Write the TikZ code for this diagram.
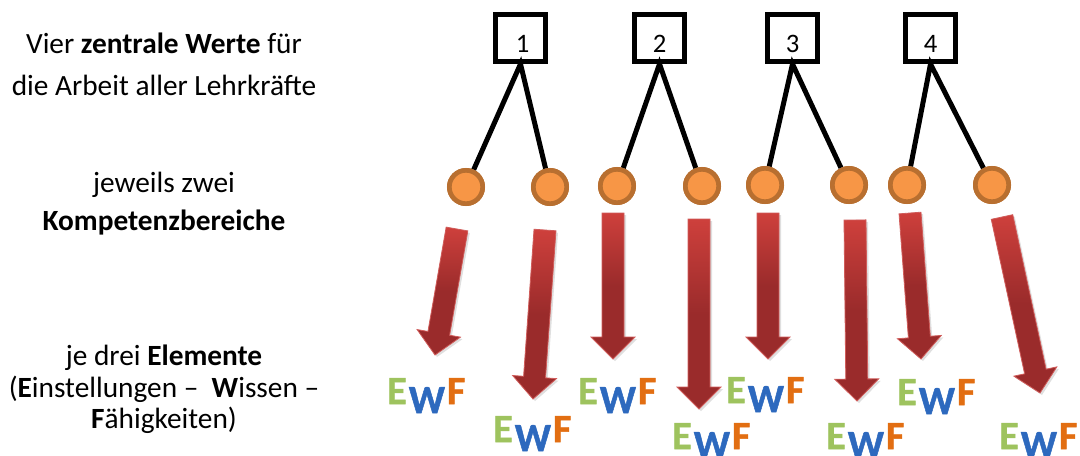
\documentclass[tikz,border=0pt]{standalone}
\usepackage{fontspec}
\setmainfont{Carlito}
\newfontfamily\ewffont[FakeBold=1.2]{Carlito Bold}
\usetikzlibrary{shadows,calc}
\definecolor{compfill}{RGB}{247,150,70}
\definecolor{compdraw}{RGB}{184,111,48}
\definecolor{arrtop}{RGB}{206,64,60}
\definecolor{arrbot}{RGB}{154,43,43}
\definecolor{arredge}{RGB}{208,92,90}
\definecolor{ewfE}{RGB}{158,195,94}
\definecolor{ewfW}{RGB}{45,105,190}
\definecolor{ewfF}{RGB}{226,110,18}
\tikzset{
  wertbox/.style={draw=black,line width=3.75pt,fill=white,minimum width=37.5pt,minimum height=35.25pt,inner sep=0pt,font=\fontsize{20}{22}\selectfont},
  compcircle/.style={circle,fill=compfill,draw=compdraw,line width=3.5pt,minimum size=25pt,inner sep=0pt},
  link/.style={draw=black,line width=3.75pt},
  redarrow/.style={shading=axis,top color=arrtop,bottom color=arrbot,middle color=arrbot,
    draw=arredge,line width=0.6pt,line join=miter,
    drop shadow={opacity=0.25,shadow xshift=1.5pt,shadow yshift=-1.5pt}},
  lefttext/.style={anchor=base,font=\fontsize{22}{24}\selectfont},
  ewfgroup/.style={anchor=base west,inner sep=0pt,font=\fontsize{30}{31}\selectfont\ewffont}
}
\newcommand\ewfletters{{\color{ewfE}E}\kern1.5pt\raisebox{-6.75pt}{\color{ewfW}W}\kern1.5pt{\color{ewfF}F}}
% block arrow from tail coordinate #1 to tip coordinate #2
\newcommand\blockarr[2]{%
  \path[redarrow] ($(#1)!8.25pt!90:(#2)$)
    -- ($($(#2)!16.5pt!(#1)$)!8.25pt!90:(#2)$)
    -- ($($(#2)!16.5pt!(#1)$)!16.5pt!90:(#2)$)
    -- (#2)
    -- ($($(#2)!16.5pt!(#1)$)!16.5pt!-90:(#2)$)
    -- ($($(#2)!16.5pt!(#1)$)!8.25pt!-90:(#2)$)
    -- ($(#1)!8.25pt!-90:(#2)$) -- cycle;}
\begin{document}
\begin{tikzpicture}[x=0.75pt,y=-0.75pt]
\useasboundingbox (0,0) rectangle (1080,455);

% left texts
\node[lefttext] (t1) at (164,53) {Vier \textbf{zentrale Werte} für};
\node[lefttext] (t2) at (164,95) {die Arbeit aller Lehrkräfte};
\node[lefttext] (t3) at (164,192) {jeweils zwei};
\node[lefttext] (t4) at (164,230) {\textbf{Kompetenzbereiche}};
\node[lefttext] (t5) at (164,365) {je drei \textbf{Elemente}};
\node[lefttext] (t6) at (164,397) {(\textbf{E}instellungen --\ \ \textbf{W}issen --};
\node[lefttext] (t7) at (164,428) {\textbf{F}ähigkeiten)};

% value boxes
\node[wertbox] (b1) at (520.5,38) {\raisebox{-10.5pt}[0pt][0pt]{\kern3pt 1}};
\node[wertbox] (b2) at (659.5,38) {\raisebox{-10.5pt}[0pt][0pt]{2}};
\node[wertbox] (b3) at (792.5,38) {\raisebox{-10.5pt}[0pt][0pt]{3}};
\node[wertbox] (b4) at (930.5,38) {\raisebox{-10.5pt}[0pt][0pt]{4}};

% competence circles
\node[compcircle] (c1) at (466,187) {};
\node[compcircle] (c2) at (550,187) {};
\node[compcircle] (c3) at (617,186) {};
\node[compcircle] (c4) at (702,186) {};
\node[compcircle] (c5) at (765,185) {};
\node[compcircle] (c6) at (849,185) {};
\node[compcircle] (c7) at (907,185) {};
\node[compcircle] (c8) at (992,185) {};

% connectors
\draw[link] (c1) -- (b1.south) -- (c2);
\draw[link] (c3) -- (b2.south) -- (c4);
\draw[link] (c5) -- (b3.south) -- (c6);
\draw[link] (c7) -- (b4.south) -- (c8);
\foreach \c in {c1,c2,c3,c4,c5,c6,c7,c8} \node[compcircle] at (\c) {};

% arrows
\coordinate (s1) at (457,229); \coordinate (e1) at (435,355);
\coordinate (s2) at (545,230); \coordinate (e2) at (533,399);
\coordinate (s3) at (613,213); \coordinate (e3) at (613,359);
\coordinate (s4) at (699,219); \coordinate (e4) at (699,409);
\coordinate (s5) at (768,213); \coordinate (e5) at (768,359);
\coordinate (s6) at (855,220); \coordinate (e6) at (857,401);
\coordinate (s7) at (910,213); \coordinate (e7) at (921,359);
\coordinate (s8) at (1002,217); \coordinate (e8) at (1040,393);
\blockarr{s1}{e1}
\blockarr{s2}{e2}
\blockarr{s3}{e3}
\blockarr{s4}{e4}
\blockarr{s5}{e5}
\blockarr{s6}{e6}
\blockarr{s7}{e7}
\blockarr{s8}{e8}

% E W F groups
\node[ewfgroup] (g1) at (387,404) {\ewfletters};
\node[ewfgroup] (g2) at (493,442) {\ewfletters};
\node[ewfgroup] (g3) at (578,404) {\ewfletters};
\node[ewfgroup] (g4) at (672,449) {\ewfletters};
\node[ewfgroup] (g5) at (726,403) {\ewfletters};
\node[ewfgroup] (g6) at (826,449) {\ewfletters};
\node[ewfgroup] (g7) at (897,405) {\ewfletters};
\node[ewfgroup] (g8) at (999,449) {\ewfletters};
\end{tikzpicture}
\end{document}
